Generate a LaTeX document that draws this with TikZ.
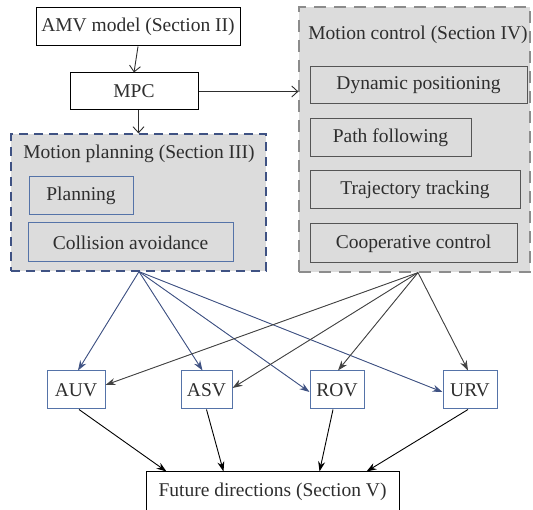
\documentclass[tikz,border=0pt]{standalone}
\usepackage{fontspec}
\setmainfont{Liberation Serif}
\usetikzlibrary{arrows.meta}
\definecolor{boxfill}{HTML}{DCDCDC}
\definecolor{navyline}{HTML}{3F5283}
\definecolor{blueline}{HTML}{5573A8}
\definecolor{greyline}{HTML}{8C8C8C}
\definecolor{darkline}{HTML}{555555}
\definecolor{txt}{HTML}{2E2E2E}
\tikzset{
	block/.style={draw, line width=1pt, minimum height=38pt, inner sep=0pt, text=txt, font=\fontsize{19.5}{23}\selectfont},
	blueblock/.style={block, draw=blueline},
	greyblock/.style={block, draw=darkline},
	container/.style={line width=1.2pt, fill=boxfill, inner sep=0pt},
	title/.style={text=txt, font=\fontsize{19.5}{23}\selectfont},
	openarrow/.style={-{Straight Barb[length=6pt,width=11pt]}, line width=0.9pt, draw=txt},
	navyarrow/.style={-{Stealth[length=10pt,width=7pt]}, line width=0.9pt, draw=navyline, fill=navyline},
	greyarrow/.style={-{Stealth[length=10pt,width=7pt]}, line width=0.9pt, draw=txt!90, fill=txt!90},
	blackarrow/.style={-{Stealth[length=10pt,width=7pt]}, line width=0.9pt, draw=black}
}
\begin{document}
\begin{tikzpicture}[x=1pt, y=-1pt]
	\useasboundingbox (0,0) rectangle (533,510);
	\node[block, minimum width=204pt] (amv) at (138,27) {AMV model (Section II)};
	\node[block, minimum width=128pt, minimum height=37pt] (mpc) at (134,91.5) {MPC};
	\begin{scope}
		\node[container, draw=navyline, dash pattern=on 9pt off 6pt, minimum width=255pt, minimum height=137pt] (plan) at (138.5,202.5) {};
		\node[title] (plantitle) at (139,154) {Motion planning (Section III)};
		\node[blueblock, minimum width=104pt] (planning) at (81,196) {Planning};
		\node[blueblock, minimum width=205pt, minimum height=39pt] (collision) at (130.5,242.5) {Collision avoidance};
	\end{scope}
	\begin{scope}
		\node[container, draw=greyline, dash pattern=on 12pt off 8pt, minimum width=231pt, minimum height=265pt] (ctrl) at (414.5,139.5) {};
		\node[title] (ctrltitle) at (418,35) {Motion control (Section IV)};
		\node[greyblock, minimum width=217pt, minimum height=37pt] (dp) at (418.5,85.5) {Dynamic positioning};
		\node[greyblock, minimum width=161pt] (pf) at (390.5,138) {Path following};
		\node[greyblock, minimum width=210pt] (tt) at (415,190) {Trajectory tracking};
		\node[greyblock, minimum width=207pt, minimum height=39pt] (cc) at (413.5,243.5) {Cooperative control};
	\end{scope}
	\node[blueblock, minimum width=58pt] (auv) at (76,390) {AUV};
	\node[blueblock, minimum width=51pt] (asv) at (206.5,390) {ASV};
	\node[blueblock, minimum width=54pt] (rov) at (337,390) {ROV};
	\node[blueblock, minimum width=54pt] (urv) at (470,390) {URV};
	\node[block, minimum width=253pt, minimum height=40pt] (future) at (272.5,492) {Future directions (Section V)};
	\coordinate (plansrc) at ([xshift=0.5pt]plan.south);
	\coordinate (ctrlsrc) at ([xshift=3.5pt]ctrl.south);
	\draw[openarrow] (amv.south) -- (mpc.north);
	\draw[openarrow] ([xshift=4.5pt]mpc.south) -- ([xshift=4.5pt]mpc.south |- plan.north);
	\draw[openarrow] (mpc.east) -- (mpc.east -| ctrl.west);
	\draw[navyarrow] (plansrc) -- ([xshift=2pt]auv.north);
	\draw[navyarrow] (plansrc) -- ([xshift=-4pt]asv.north);
	\draw[navyarrow] (plansrc) -- ([yshift=-2pt]rov.west);
	\draw[navyarrow] (plansrc) -- ([yshift=-2pt]urv.west);
	\draw[greyarrow] (ctrlsrc) -- ([yshift=5pt]auv.east);
	\draw[greyarrow] (ctrlsrc) -- ([yshift=2pt]asv.east);
	\draw[greyarrow] (ctrlsrc) -- ([xshift=1pt]rov.north);
	\draw[greyarrow] (ctrlsrc) -- ([xshift=-2pt]urv.north);
	\draw[blackarrow] ([xshift=3pt]auv.south) -- ([xshift=21pt]future.north west);
	\draw[blackarrow] (asv.south) -- ([xshift=78pt]future.north west);
	\draw[blackarrow] ([xshift=-4pt]rov.south) -- ([xshift=-80pt]future.north east);
	\draw[blackarrow] ([xshift=-2pt]urv.south) -- ([xshift=-33pt]future.north east);
\end{tikzpicture}
\end{document}
